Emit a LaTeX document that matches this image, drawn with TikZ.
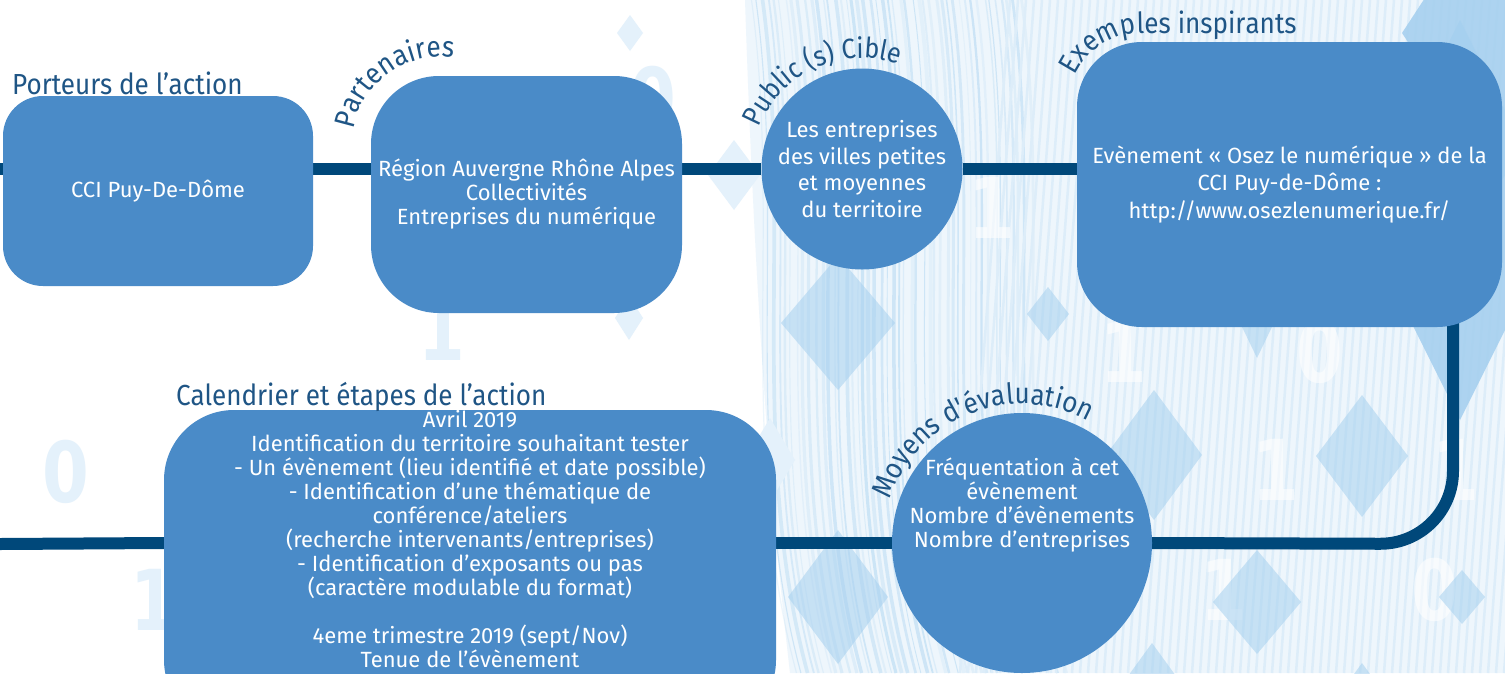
\documentclass[tikz,border=0pt]{standalone}
\usepackage{fontspec}
\usetikzlibrary{decorations.text,calc}
\newfontfamily\boxfont{Fira Sans}
\newfontfamily\labfont{Fira Sans}[FakeStretch=0.9]
\newfontfamily\digfont{DejaVu Sans}[FakeStretch=0.8]
\definecolor{boxblue}{HTML}{4A8BC8}
\definecolor{linkblue}{HTML}{00487A}
\definecolor{labblue}{HTML}{1F5585}
\definecolor{palea}{HTML}{E4F1FB}
\definecolor{diamc}{HTML}{A6D0EF}
\definecolor{bgtex}{HTML}{EEF6FC}
\definecolor{streakc}{HTML}{A9D3F1}
\definecolor{pinc}{HTML}{DDEDF9}
\pgfdeclarelayer{deco}
\pgfdeclarelayer{lines}
\pgfsetlayers{deco,lines,main}
\newcommand\mydiamond[5]{\fill[#5] (#1-#3,-#2) -- (#1,-#2+#4) -- (#1+#3,-#2) -- (#1,-#2-#4) -- cycle;}
\begin{document}
\begin{tikzpicture}[x=1pt,y=1pt,
  box/.style={fill=boxblue, text=white, inner sep=0pt, align=center,
    font=\boxfont\fontsize{22}{24}\selectfont},
  rbox/.style={box, rectangle, rounded corners=#1},
  cbox/.style={box, circle},
  txt/.style={box, fill=none, anchor=north},
  conn/.style={draw=linkblue, line width=12pt},
  head/.style={text=labblue, font=\labfont\fontsize{29}{29}\selectfont, inner sep=0pt, anchor=base west},
  arclab/.style n args={2}{decorate, decoration={text along path,
    text={|\labfont\fontsize{#2}{#2}\selectfont\color{labblue}|#1}, text align=left}},
  digit/.style={font=\digfont\bfseries\fontsize{84}{84}\selectfont, inner sep=0pt},
  dpale/.style={fill=palea},
  dmid/.style={fill=diamc, fill opacity=0.55},
  dbig/.style={fill=diamc, fill opacity=0.9}
]
\useasboundingbox (0,0) rectangle (1505,-673);

% ---------- background decoration ----------
\begin{pgfonlayer}{deco}
\fill[white] (0,0) rectangle (1505,-673);
\fill[bgtex] (745,0) .. controls (755,-300) and (770,-500) .. (790,-673) -- (1505,-673) -- (1505,0) -- cycle;
\pgfmathsetseed{7}
\foreach \i in {0,...,45} {
  \pgfmathsetmacro\xa{748+\i*6+rnd*4}
  \pgfmathsetmacro\w{0.8+rnd*3}
  \pgfmathsetmacro\op{0.15+rnd*0.35}
  \draw[streakc, line width=\w pt, opacity=\op] (\xa,0) .. controls (\xa+30,-220) and (\xa-15,-450) .. (\xa+45,-673);
}
\foreach \x in {1010,1018,...,1560} {
  \draw[pinc, line width=2.5pt] (\x,0) -- (\x-50,-673);
}
% digits
\node[digit, text=palea] (d1) at (66,-472) {0};
\node[digit, text=palea] (d2) at (154,-600) {1};
\node[digit, text=palea] (d3) at (442,-330) {1};
\node[digit, text=palea] (d4) at (653,-98) {0};
\node[digit, text=white, opacity=0.6] (d5) at (1124,-352) {1};
\node[digit, text=white, opacity=0.6] (d6) at (1320,-352) {0};
\node[digit, text=white, opacity=0.6] (d7) at (1276,-470) {1};
\node[digit, text=white, opacity=0.6] (d8) at (1456,-470) {1};
\node[digit, text=white, opacity=0.6] (d9) at (1224,-590) {1};
\node[digit, text=white, opacity=0.6] (d10) at (1435,-590) {0};
\node[digit, text=white, opacity=0.6] (d11) at (992,-208) {1};
% diamonds
\mydiamond{630}{33}{13}{18}{dpale}
\mydiamond{734}{175}{26}{35}{dpale}
\mydiamond{629}{318}{14}{22}{dpale}
\mydiamond{770}{460}{25}{42}{dpale}
\mydiamond{838}{323}{57}{67}{dmid}
\mydiamond{1048}{314}{21}{27}{dmid}
\mydiamond{1257}{300}{28}{58}{dmid}
\mydiamond{1154}{455}{48}{65}{dmid}
\mydiamond{1362}{456}{46}{61}{dmid}
\mydiamond{838}{597}{50}{67}{dmid}
\mydiamond{1257}{602}{44}{52}{dmid}
\mydiamond{1462}{597}{23}{27}{dmid}
\mydiamond{1152}{705}{45}{62}{dmid}
\mydiamond{1362}{725}{45}{62}{dmid}
\mydiamond{1500}{33}{98}{150}{dbig}
\mydiamond{1460}{220}{100}{200}{dbig}
\end{pgfonlayer}

% ---------- nodes ----------
\node[rbox=40pt, minimum width=310pt, minimum height=190pt] (port) at (158,-191) {CCI Puy-De-Dôme};
\node[rbox=68pt, minimum width=311pt, minimum height=237pt] (part) at (526.5,-194.5)
  {Région Auvergne Rhône Alpes\\Collectivités\\Entreprises du numérique};
\node[cbox, minimum size=201pt, font=\boxfont\fontsize{22}{26.5}\selectfont] (pub) at (862,-169)
  {Les entreprises\\des villes petites\\et moyennes\\du territoire};
\node[rbox=65pt, minimum width=425pt, minimum height=285pt, font=\boxfont\fontsize{22}{27.5}\selectfont] (ex) at (1289.5,-184.5)
  {Evènement « Osez le numérique » de la\\CCI Puy-de-Dôme :\\http://www.osezlenumerique.fr/};
\node[rbox=70pt, minimum width=612pt, minimum height=320pt] (cal) at (470,-570) {};
\node[txt] (caltxt) at (470,-410)
  {Avril 2019\\Identification du territoire souhaitant tester\\- Un évènement (lieu identifié et date possible)\\- Identification d’une thématique de\\conférence/ateliers\\(recherche intervenants/entreprises)\\- Identification d’exposants ou pas\\(caractère modulable du format)\\[23.9pt]4eme trimestre 2019 (sept/Nov)\\Tenue de l’évènement};
\node[cbox, minimum size=260pt] (moy) at (1022,-543) {};
\node[txt] (moytxt) at (1022,-458)
  {Fréquentation à cet\\évènement\\Nombre d’évènements\\Nombre d’entreprises};

% ---------- headings ----------
\node[head] (h1) at (12,-94) {Porteurs de l’action};
\node[head] (h2) at (176,-405) {Calendrier et étapes de l’action};
\coordinate (c2) at (440,-145);
\path[arclab={Partenaires}{29}] ($(c2)+(170:88pt)$) arc[start angle=170, end angle=20, radius=88pt];
\coordinate (c3) at (862,-169);
\path[arclab={Public (s) Cible}{28}] ($(c3)+(158:111pt)$) arc[start angle=158, end angle=20, radius=111pt];
\coordinate (c4) at (1142,-107);
\path[arclab={Exemples inspirants}{29}] ($(c4)+(155:74pt)$) arc[start angle=155, end angle=90, radius=74pt] -- ++(250pt,0);
\coordinate (c6) at (1022,-543);
\path[arclab={Moyens d'évaluation}{29}] ($(c6)+(162:139pt)$) arc[start angle=162, end angle=20, radius=139pt];

% ---------- connectors ----------
\coordinate (L1) at (0,-169);
\coordinate (L2) at (0,-544);
\coordinate (turn) at (1453,-544);
\begin{pgfonlayer}{lines}
\draw[conn] (L1) -- (port.west |- L1);
\draw[conn] (port.east |- L1) -- (part.west |- L1);
\draw[conn] (part.east |- pub.west) -- (pub.west);
\draw[conn] (pub.east) -- (ex.west |- pub.east);
\draw[conn, rounded corners=73pt] ([yshift=30pt]ex.south -| turn) -- (turn) -- (moy.east);
\draw[conn] (moy.west) -- (cal.east |- moy.west);
\draw[conn] (cal.west |- moy.west) -- (L2);
\end{pgfonlayer}
\end{tikzpicture}
\end{document}
